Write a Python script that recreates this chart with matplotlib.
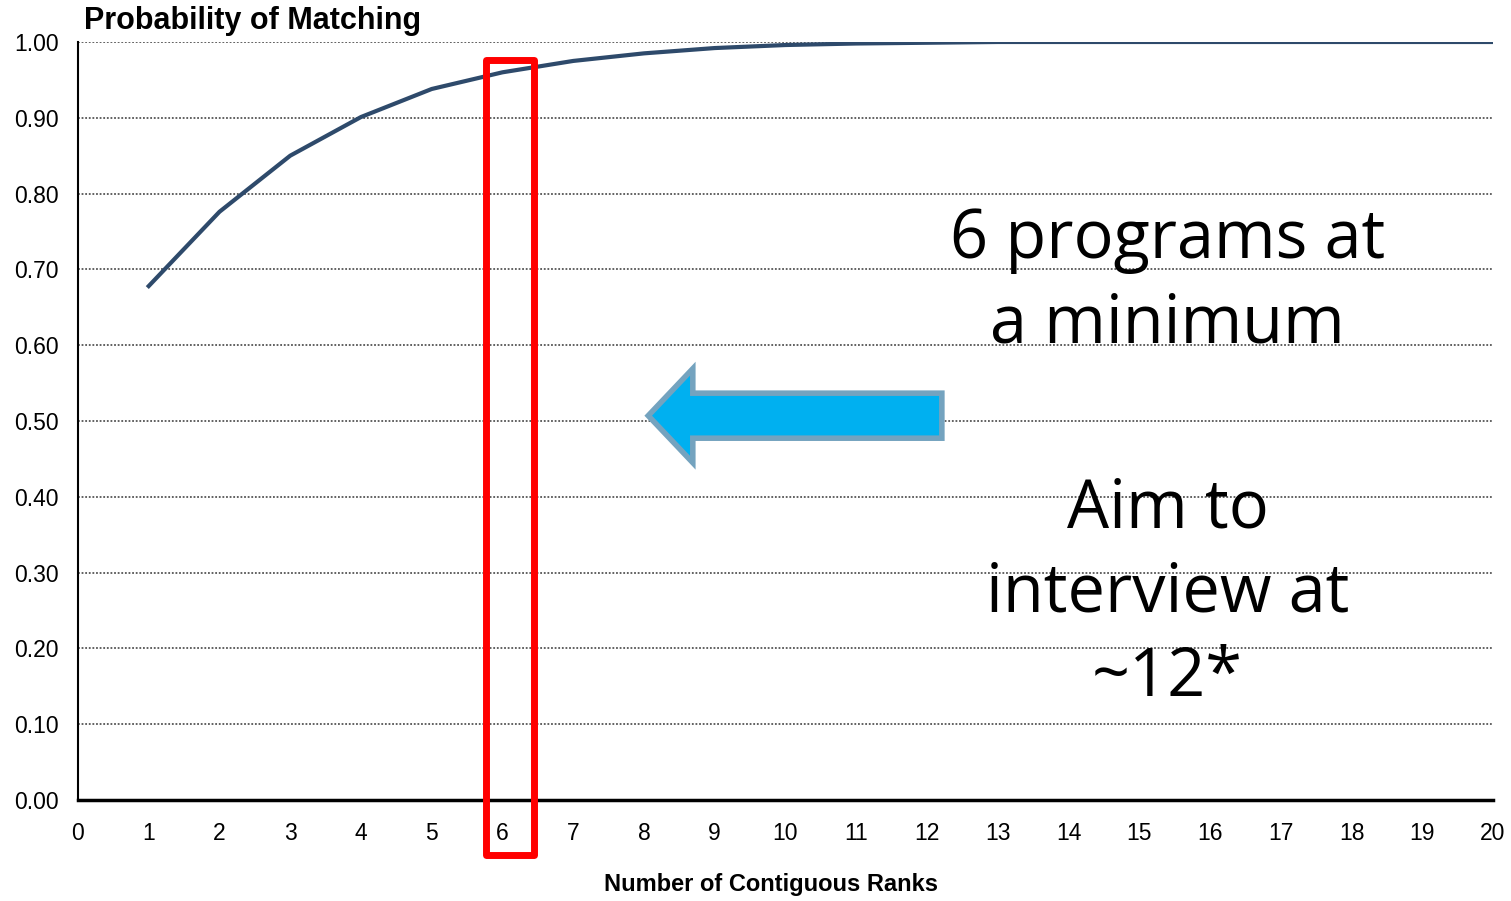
import numpy as np
import matplotlib.pyplot as plt
from matplotlib.patches import Rectangle, Polygon

# data
ranks = [1, 2, 3, 4, 5, 6, 7, 8, 9, 10, 11, 12, 13, 14, 15, 16, 17, 18, 19, 20]
prob = [0.678, 0.776, 0.850, 0.901, 0.938, 0.960, 0.975, 0.985, 0.992, 0.996,
        0.998, 0.999, 1.0, 1.0, 1.0, 1.0, 1.0, 1.0, 1.0, 1.0]
yticks = [0.0, 0.1, 0.2, 0.3, 0.4, 0.5, 0.6, 0.7, 0.8, 0.9, 1.0]
xticks = list(range(0, 21))

fig = plt.figure(figsize=(15.11, 9.01), dpi=100)
ax = fig.add_axes([0.0516, 0.1121, 0.9365, 0.8413])

for yv in yticks[1:]:
    ax.axhline(yv, color='#555555', lw=1.3, ls=(0, (1, 1)), zorder=1)

ax.plot(ranks, prob, color='#2E4A6B', lw=3, zorder=3)

ax.set_xlim(0, 20)
ax.set_ylim(0, 1.0)
ax.set_xticks(xticks)
ax.set_yticks(yticks)
ax.set_yticklabels(['%.2f' % v for v in yticks])
ax.tick_params(length=0, labelsize=16.5, colors='black')
ax.tick_params(axis='x', pad=16)
ax.tick_params(axis='y', pad=14)
for lab in ax.get_xticklabels() + ax.get_yticklabels():
    lab.set_fontfamily('Liberation Sans')

for s in ['top', 'right']:
    ax.spines[s].set_visible(False)
ax.spines['left'].set_linewidth(1.5)
ax.spines['bottom'].set_linewidth(2.5)

fig.text(0.510, 0.0178, 'Number of Contiguous Ranks', fontsize=17, fontweight='bold',
         family='Liberation Sans', ha='center', va='center')
fig.text(0.0556, 0.977, 'Probability of Matching', fontsize=22, fontweight='bold',
         family='Liberation Sans', va='center', ha='left')

# red highlight box around rank 6
ax.add_patch(Rectangle((5.77, -0.0726), 0.675, 1.0486, fill=False,
                       edgecolor='#FF0000', lw=5, clip_on=False, zorder=5,
                       joinstyle='round'))

# blue arrow pointing left
tip, base, tail = 8.06, 8.69, 12.21
yc, bh, hh = 0.507, 0.0297, 0.062
arrow = Polygon([(tip, yc), (base, yc + hh), (base, yc + bh), (tail, yc + bh),
                 (tail, yc - bh), (base, yc - bh), (base, yc - hh)],
                closed=True, facecolor='#00B0F0', edgecolor='#74A3BF', lw=4, zorder=4)
ax.add_patch(arrow)

big = dict(fontsize=48, family=['Open Sans', 'DejaVu Sans'], ha='center',
           va='center', color='black', linespacing=1.32, zorder=6)
ax.text(15.4, 0.683, '6 programs at\na minimum', **big)
ax.text(15.4, 0.272, 'Aim to\ninterview at\n~12*', **big)

fig.savefig('out.png', dpi=100)
